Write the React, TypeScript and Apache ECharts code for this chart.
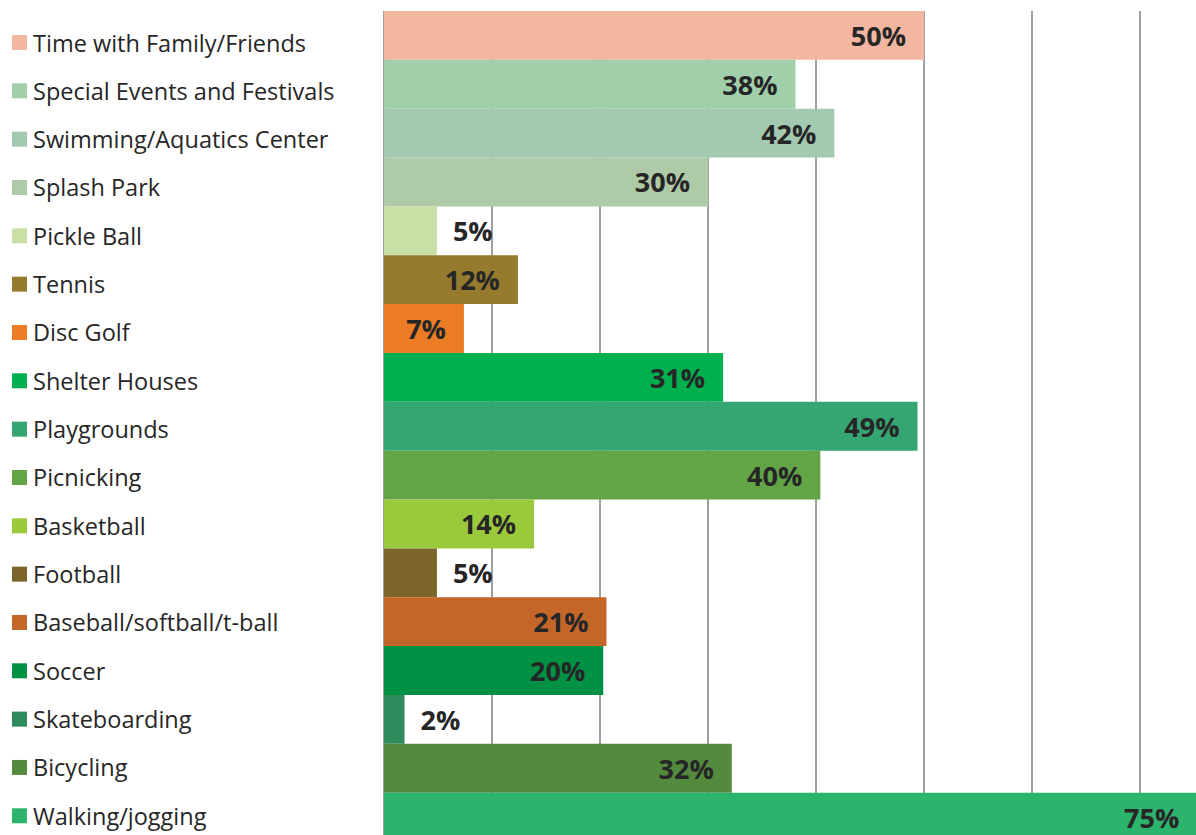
import React, { useEffect, useRef } from "react";
import * as echarts from "echarts";

const categories: string[] = [
  "Time with Family/Friends",
  "Special Events and Festivals",
  "Swimming/Aquatics Center",
  "Splash Park",
  "Pickle Ball",
  "Tennis",
  "Disc Golf",
  "Shelter Houses",
  "Playgrounds",
  "Picnicking",
  "Basketball",
  "Football",
  "Baseball/softball/t-ball",
  "Soccer",
  "Skateboarding",
  "Bicycling",
  "Walking/jogging",
];

// percentages (labels show rounded values)
const values: number[] = [
  50.0, 38.1, 41.7, 30.0, 4.9, 12.4, 7.4, 31.4, 49.4, 40.4, 13.9, 4.9, 20.6, 20.3, 1.9, 32.2, 75.3,
];

const colors: string[] = [
  "#F3B6A0",
  "#A1CFAA",
  "#A3CAB1",
  "#AFCAA6",
  "#C8E0A6",
  "#967A2E",
  "#EC7D26",
  "#00AF4E",
  "#35A672",
  "#62A446",
  "#9BC93C",
  "#7C652A",
  "#C46628",
  "#009145",
  "#2E8B5C",
  "#538A3E",
  "#2DB46C",
];

const xTicks = { min: 0, max: 80, interval: 10 };

export default function App() {
  const ref = useRef<HTMLDivElement>(null);

  useEffect(() => {
    if (!ref.current) return;
    const chart = echarts.init(ref.current, undefined, { renderer: "svg" });

    const series = categories.map((name, i) => ({
      name,
      type: "bar",
      data: categories.map((_, j) => (j === i ? values[i] : "-")),
      barWidth: "100%",
      barGap: "-100%",
      barCategoryGap: "0%",
      itemStyle: { color: colors[i] },
      label: {
        show: true,
        position: values[i] < 6 ? "right" : "insideRight",
        distance: values[i] < 6 ? 16 : 18,
        formatter: (p: any) => Math.round(p.value) + "%",
        color: "#262626",
        fontFamily: "Open Sans",
        fontWeight: "bold",
        fontSize: 27,
      },
    }));

    chart.setOption({
      animation: false,
      backgroundColor: "#ffffff",
      legend: {
        data: categories,
        orient: "vertical",
        left: 12,
        top: 30.5,
        padding: 0,
        itemWidth: 15,
        itemHeight: 15,
        itemGap: 24.33,
        icon: "rect",
        selectedMode: false,
        textStyle: {
          fontFamily: "Open Sans",
          fontSize: 23.5,
          color: "#262626",
          lineHeight: 24,
          padding: [0, 0, 0, 1],
        },
      },
      grid: {
        left: 384,
        top: 11,
        width: 864,
        height: 830.5,
        containLabel: false,
        outerBoundsMode: "none",
      },
      xAxis: {
        type: "value",
        min: xTicks.min,
        max: xTicks.max,
        interval: xTicks.interval,
        axisLabel: { show: false },
        axisLine: { show: false },
        axisTick: { show: false },
        splitLine: { show: true, lineStyle: { color: "#a0a0a0", width: 2 } },
      },
      yAxis: {
        type: "category",
        data: categories,
        inverse: true,
        axisLabel: { show: false },
        axisLine: { show: false },
        axisTick: { show: false },
        splitLine: { show: false },
      },
      series,
    });

    return () => chart.dispose();
  }, []);

  return (
    <div
      ref={ref}
      style={{ position: "fixed", left: 0, top: 0, width: 1196, height: 835 }}
    />
  );
}
